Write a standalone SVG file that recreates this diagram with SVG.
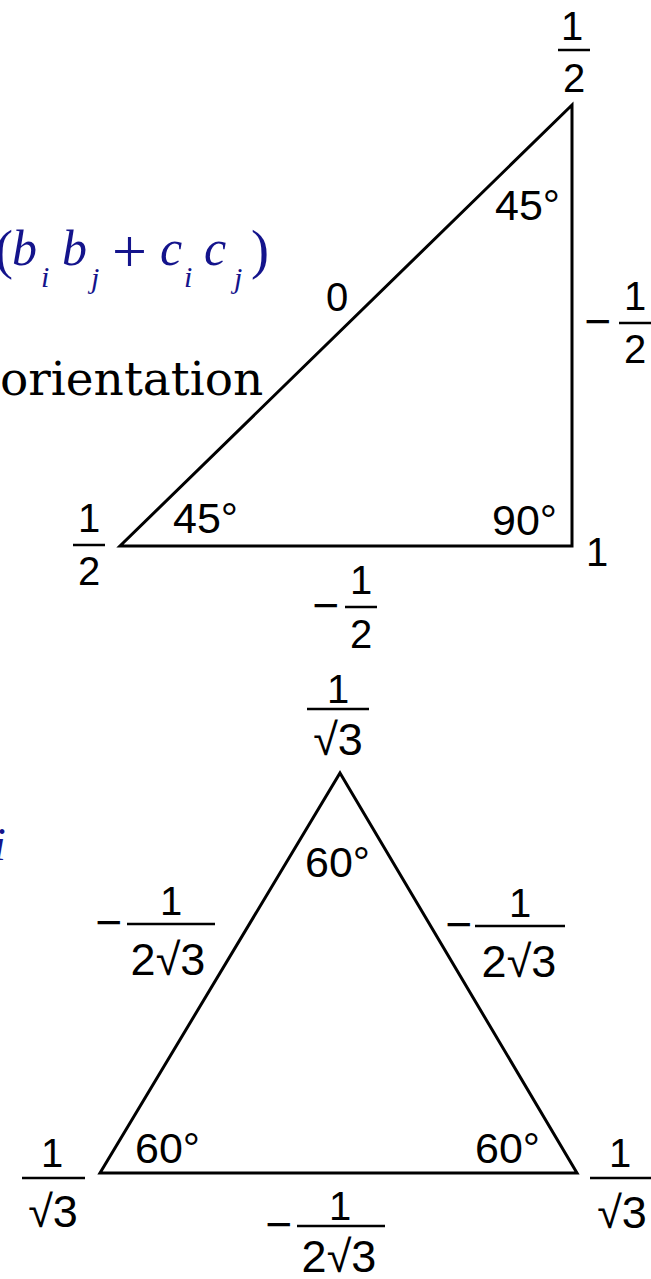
<svg xmlns="http://www.w3.org/2000/svg" width="651" height="1279" viewBox="0 0 651 1279">
<style>
.n{font-family:"Liberation Sans",Arial,sans-serif;font-size:40px;fill:#000}
.a{font-family:"Liberation Sans",Arial,sans-serif;font-size:43px;fill:#000}
.d{font-family:"Liberation Sans",Arial,sans-serif;font-size:45px;fill:#000}
.mi{font-family:"Liberation Sans",Arial,sans-serif;font-size:46px;fill:#000;text-anchor:middle}
.c{text-anchor:middle}
.bar{stroke:#000;stroke-width:2.5}
.edge{fill:none;stroke:#000;stroke-width:3;stroke-linejoin:miter}
.m{font-family:"Liberation Serif","Times New Roman",serif;fill:#14148c}
.it{font-style:italic}
</style>
<rect width="651" height="1279" fill="#fff"/>
<g id="formula">
<text class="m" font-size="54" x="-5" y="268">(</text>
<text class="m it" font-size="50" x="12" y="265">b</text>
<text class="m it" font-size="30" x="41" y="287">i</text>
<text class="m it" font-size="50" x="62" y="265">b</text>
<text class="m it" font-size="30" x="91" y="288">j</text>
<text class="m" font-size="62" x="112" y="272">+</text>
<text class="m it" font-size="50" x="160" y="265">c</text>
<text class="m it" font-size="30" x="184" y="287">i</text>
<text class="m it" font-size="50" x="204" y="265">c</text>
<text class="m it" font-size="30" x="234" y="288">j</text>
<text class="m" font-size="54" x="251" y="268">)</text>
</g>
<g id="orientation">
<text x="0" y="395" font-family="DejaVu Serif,serif" font-size="47" fill="#000">orientation</text>
</g>
<g id="fragment-i">
<text class="m it" font-size="46" x="-7" y="860">i</text>
</g>
<g id="triangle1">
<polygon class="edge" points="120,546 572,546 572,105"/>
</g>
<g id="t1-labels">
<text class="n c" x="572" y="40">1</text>
<line class="bar" x1="558" y1="50" x2="590" y2="50"/>
<text class="n c" x="574" y="92">2</text>
<text class="a" x="495" y="220">45°</text>
<text class="n c" x="337" y="311">0</text>
<text class="mi" x="598" y="337">−</text>
<text class="n c" x="635" y="310">1</text>
<line class="bar" x1="619" y1="323" x2="651" y2="323"/>
<text class="n c" x="635" y="363">2</text>
<text class="n c" x="89" y="532">1</text>
<line class="bar" x1="73" y1="545" x2="105" y2="545"/>
<text class="n c" x="89" y="585">2</text>
<text class="a" x="173" y="533">45°</text>
<text class="a" x="492" y="535">90°</text>
<text class="n" x="586" y="566">1</text>
<text class="mi" x="326" y="621">−</text>
<text class="n c" x="361" y="594">1</text>
<line class="bar" x1="345" y1="607" x2="377" y2="607"/>
<text class="n c" x="361" y="648">2</text>
</g>
<g id="triangle2">
<polygon class="edge" points="340,773 577,1173 100,1173"/>
</g>
<g id="t2-labels">
<text class="n c" x="338" y="703">1</text>
<line class="bar" x1="307" y1="709" x2="369" y2="709"/>
<text class="d c" x="338" y="755">√3</text>
<text class="a" x="305" y="877">60°</text>
<text class="mi" x="109" y="938">−</text>
<text class="n c" x="171" y="915">1</text>
<line class="bar" x1="127" y1="924" x2="215" y2="924"/>
<text class="d c" x="168" y="975">2√3</text>
<text class="mi" x="459" y="940">−</text>
<text class="n c" x="520" y="917">1</text>
<line class="bar" x1="475" y1="926" x2="565" y2="926"/>
<text class="d c" x="519" y="977">2√3</text>
<text class="a" x="135" y="1163">60°</text>
<text class="a" x="475" y="1163">60°</text>
<text class="n c" x="52" y="1167">1</text>
<line class="bar" x1="22" y1="1178" x2="85" y2="1178"/>
<text class="d c" x="53" y="1227">√3</text>
<text class="n c" x="620" y="1167">1</text>
<line class="bar" x1="590" y1="1178" x2="651" y2="1178"/>
<text class="d c" x="622" y="1228">√3</text>
<text class="mi" x="279" y="1240">−</text>
<text class="n c" x="340" y="1220">1</text>
<line class="bar" x1="297" y1="1226" x2="385" y2="1226"/>
<text class="d c" x="339" y="1272">2√3</text>
</g>
</svg>
